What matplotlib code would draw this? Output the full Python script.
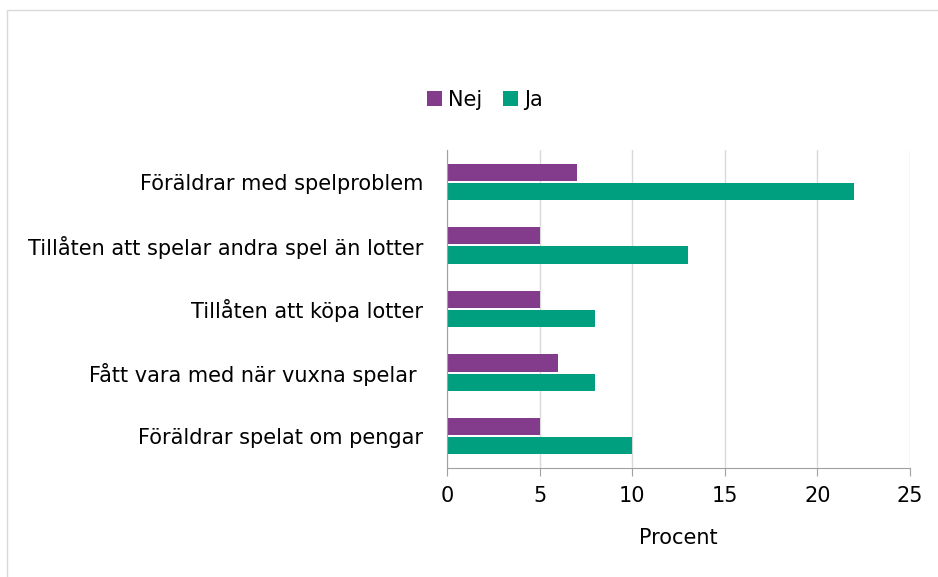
import matplotlib.pyplot as plt
import numpy as np

categories = ["Föräldrar med spelproblem",
              "Tillåten att spelar andra spel än lotter",
              "Tillåten att köpa lotter",
              "Fått vara med när vuxna spelar ",
              "Föräldrar spelat om pengar"]
nej = [7, 5, 5, 6, 5]
ja = [22, 13, 8, 8, 10]

plt.rcParams['font.family'] = ['DejaVu Sans']

fig = plt.figure(figsize=(9.38, 5.77), dpi=100)
ax = fig.add_axes([0.4765, 0.189, 0.4935, 0.551])

y = np.arange(len(categories))
h = 0.27
ax.barh(y - 0.15, nej, height=h, color='#833c8b', label='Nej')
ax.barh(y + 0.15, ja, height=h, color='#009f7f', label='Ja')

ax.set_ylim(len(categories) - 0.5, -0.5)
ax.set_xlim(0, 25)
ax.set_xticks([0, 5, 10, 15, 20, 25])
ax.set_yticks(y)
ax.set_yticklabels(categories, fontsize=15)
ax.tick_params(axis='y', length=0, pad=17)
ax.tick_params(axis='x', length=6, color='#a0a0a0', labelsize=15, pad=7)
ax.grid(axis='x', color='#d9d9d9', linewidth=1)
ax.set_axisbelow(True)
for s in ['top', 'right']:
    ax.spines[s].set_visible(False)
for s in ['left', 'bottom']:
    ax.spines[s].set_color('#a0a0a0')
ax.set_xlabel('Procent', fontsize=15, labelpad=16)

fig.legend(loc='center', bbox_to_anchor=(485 / 938, 1 - 100 / 577), ncol=2,
           frameon=False, fontsize=15, handlelength=0.7, handleheight=0.7,
           handletextpad=0.3, columnspacing=1.0)

# outer frame
fig.patches.append(plt.Rectangle((7 / 938, -0.1), 1.2, 1 - 10 / 577 + 0.1,
                                 transform=fig.transFigure, fill=False,
                                 edgecolor='#d9d9d9', linewidth=1))

fig.savefig('out.png', dpi=100, facecolor='white')
